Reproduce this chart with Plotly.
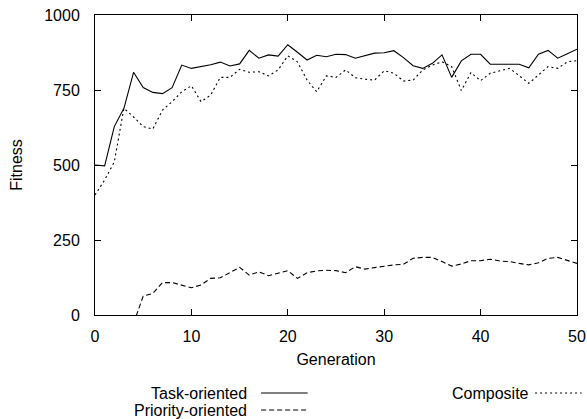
import plotly.graph_objects as go

generations = list(range(0, 51))

task_oriented = [500, 497, 628, 689, 809, 758, 742, 738, 758, 833,
                 822, 828, 834, 843, 830, 837, 882, 856, 867, 863,
                 901, 876, 850, 866, 861, 869, 868, 856, 865, 873,
                 874, 881, 858, 831, 822, 839, 867, 792, 847, 869,
                 869, 836, 836, 836, 836, 824, 869, 882, 856, 871,
                 886]

priority_oriented = [None, None, None, None, -28, 63, 72, 108, 108, 100,
                     91, 100, 122, 124, 141, 159, 133, 144, 131, 139,
                     148, 122, 141, 147, 149, 148, 141, 161, 153, 158,
                     163, 167, 169, 189, 192, 192, 178, 163, 170, 181,
                     181, 186, 180, 178, 172, 167, 174, 189, 192, 183,
                     172]

composite = [400, 450, 510, 689, 660, 628, 620, 683, 711, 744,
             764, 711, 733, 792, 792, 819, 809, 811, 797, 817,
             864, 844, 783, 744, 797, 792, 817, 791, 786, 783,
             814, 806, 780, 783, 817, 833, 844, 828, 748, 808,
             781, 806, 814, 822, 798, 772, 800, 828, 822, 844,
             848]

series_names = ["Task-oriented", "Priority-oriented", "Composite"]
series_dash = ["solid", "5px,3px", "2px,3px"]
series_values = [task_oriented, priority_oriented, composite]

x_ticks = [0, 10, 20, 30, 40, 50]
y_ticks = [0, 250, 500, 750, 1000]

FONT = "Liberation Sans, Arial, Helvetica, sans-serif"
FS = 16

fig = go.Figure()
for name, dash, vals in zip(series_names, series_dash, series_values):
    fig.add_trace(go.Scatter(
        x=generations, y=vals, mode="lines", name=name,
        line=dict(color="black", width=1.1, dash=dash),
        connectgaps=False, showlegend=False,
    ))

axis_common = dict(
    showgrid=False, zeroline=False, showline=True, linecolor="black",
    linewidth=1, mirror="ticks", ticks="inside", ticklen=6,
    tickcolor="black", tickwidth=1,
    tickfont=dict(family=FONT, size=FS, color="black"),
)

fig.update_xaxes(range=[0, 50], tickvals=x_ticks, ticklabelstandoff=7,
                 title=dict(text="Generation", standoff=9,
                            font=dict(family=FONT, size=FS, color="black")),
                 **axis_common)
fig.update_yaxes(range=[0, 1000], tickvals=y_ticks, ticklabelstandoff=11,
                 title=dict(text="Fitness", standoff=17,
                            font=dict(family=FONT, size=FS, color="black")),
                 **axis_common)

# Legend drawn gnuplot-style: label text followed by a line sample
legend_rows = [
    (series_names[0], series_dash[0], 0.3202, -0.26, 0.3446),
    (series_names[1], series_dash[1], 0.3202, -0.3167, 0.3446),
    (series_names[2], series_dash[2], 0.9047, -0.26, 0.9130),
]
for name, dash, xr, yr, xs in legend_rows:
    fig.add_annotation(x=xr, y=yr, xref="paper", yref="paper", text=name,
                       showarrow=False, xanchor="right", yanchor="middle",
                       font=dict(family=FONT, size=FS, color="black"))
    fig.add_shape(type="line", xref="paper", yref="paper",
                  x0=xs, x1=xs + 0.0965, y0=yr, y1=yr,
                  line=dict(color="black", width=1.1, dash=dash))

fig.update_layout(
    width=587, height=419,
    margin=dict(l=95, r=10, t=15, b=104, autoexpand=False),
    paper_bgcolor="white", plot_bgcolor="white",
    font=dict(family=FONT, size=FS, color="black"),
    showlegend=False,
)

fig.write_html("out.html")
